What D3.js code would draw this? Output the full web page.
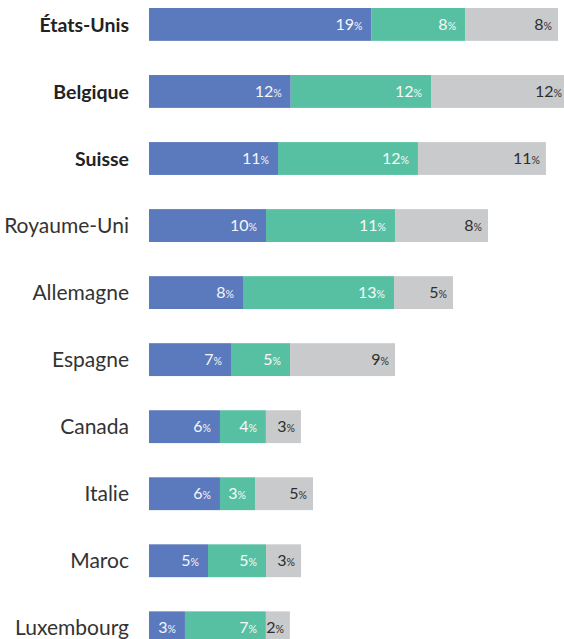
<!DOCTYPE html>
<html>
<head>
<meta charset="utf-8">
<script src="https://cdn.jsdelivr.net/npm/d3@7"></script>
<style>
  html, body { margin: 0; padding: 0; background: #ffffff; }
  svg { display: block; }
</style>
</head>
<body>
<svg id="chart" width="564" height="639"></svg>
<script>
const countries = ["États-Unis","Belgique","Suisse","Royaume-Uni","Allemagne","Espagne","Canada","Italie","Maroc","Luxembourg"];
const boldCountries = ["États-Unis","Belgique","Suisse"];
const seriesA = [18.94, 12.06, 10.98, 9.96, 8.0, 6.98, 6.04, 6.04, 5.02, 3.06];
const seriesB = [7.96, 11.94, 11.91, 10.98, 12.85, 5.02, 3.91, 2.98, 4.94, 6.89];
const seriesC = [7.91, 11.66, 10.89, 7.91, 5.02, 8.94, 2.98, 4.94, 2.98, 2.04];
const seriesKeys = ["a","b","c"];
const colors = ["#5b79bd", "#58c0a2", "#c9cacb"];
const labelColors = ["#f4f6fa", "#f4faf8", "#2e2e2e"];
const labelPad = [9, 9, 6];

const font = "Lato, 'Open Sans', sans-serif";
const svg = d3.select("#chart");

const rows = countries.map((c, i) => ({country: c, a: seriesA[i], b: seriesB[i], c: seriesC[i]}));
const stacked = d3.stack().keys(seriesKeys)(rows);

const x = d3.scaleLinear().domain([0, 40]).range([149, 149 + 470]);
const y = d3.scaleBand().domain(countries).range([8, 8 + 66.9 * 9.51]).paddingInner(0.51).paddingOuter(0);

const layers = svg.selectAll("g.layer").data(stacked).join("g")
  .attr("class", "layer").attr("fill", (d, i) => colors[i]);

layers.selectAll("rect").data(d => d).join("rect")
  .attr("x", d => x(d[0]))
  .attr("y", d => y(d.data.country))
  .attr("width", d => x(d[1]) - x(d[0]))
  .attr("height", y.bandwidth());

stacked.forEach((layer, li) => {
  const g = svg.append("g");
  layer.forEach(d => {
    const t = g.append("text")
      .attr("x", x(d[1]) - labelPad[li])
      .attr("y", y(d.data.country) + y.bandwidth() / 2 + 5.6)
      .attr("text-anchor", "end")
      .attr("fill", labelColors[li])
      .style("font-family", font)
      .style("font-weight", 400);
    t.append("tspan").style("font-size", "16px").text(d3.format(".0f")(d[1] - d[0]));
    t.append("tspan").style("font-size", "10.5px").text("%");
  });
});

const yAxis = svg.append("g")
  .attr("transform", "translate(140,0)")
  .call(d3.axisLeft(y).tickSize(0).tickPadding(11));
yAxis.select(".domain").remove();
yAxis.selectAll("text")
  .attr("dy", null)
  .attr("y", 7.5)
  .attr("transform", null)
  .style("font-family", font)
  .style("font-size", d => boldCountries.includes(d) ? "19.5px" : "21px")
  .style("font-weight", d => boldCountries.includes(d) ? 700 : 400)
  .attr("fill", d => boldCountries.includes(d) ? "#222222" : "#333333");
</script>
</body>
</html>
